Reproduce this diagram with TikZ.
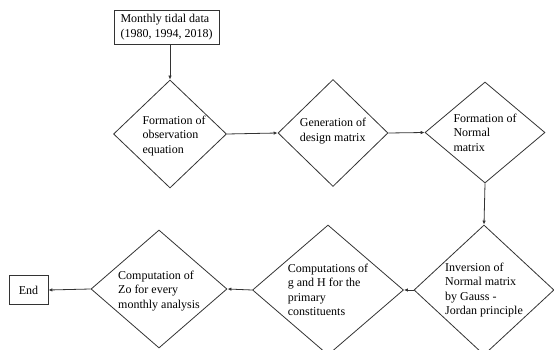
\documentclass[tikz,border=0pt]{standalone}
\usepackage{fontspec}
\setmainfont{Liberation Serif}
\usetikzlibrary{shapes.geometric,arrows.meta}

\tikzset{
 dia/.style={draw=black!80, line width=0.8pt, shape=diamond, inner sep=0pt},
 box/.style={draw=black!80, line width=0.8pt, rectangle, inner sep=0pt},
 lbl/.style={align=left, font=\fontsize{12}{14.5}\selectfont},
 arr/.style={draw=black!80, line width=0.8pt, -{Latex[length=4pt,width=3.5pt]}}
}

\begin{document}
\begin{tikzpicture}[x=1pt,y=-1pt]
 \clip (0,0) rectangle (554,350);
 % first row
 \node[box, minimum width=105pt, minimum height=34pt, lbl] (data) at (166.5,27) {Monthly tidal data\\(1980, 1994, 2018)};
 \node[dia, minimum width=113pt, minimum height=108pt,
   label={[lbl, xshift=4pt, yshift=-2pt]center:{Formation of\\observation\\equation}}] (form) at (170,134) {};
 \node[dia, minimum width=110pt, minimum height=107pt,
   label={[lbl, yshift=2pt]center:{Generation of\\design matrix}}] (design) at (333,133) {};
 \node[dia, minimum width=120pt, minimum height=101pt,
   label={[lbl]center:{Formation of\\Normal\\matrix}}] (normal) at (485,132.5) {};
 % second row
 \node[dia, minimum width=140pt, minimum height=130pt,
   label={[lbl]center:{Inversion of\\Normal matrix\\by Gauss -\\Jordan principle}}] (inv) at (484,290) {};
 \node[dia, minimum width=151pt, minimum height=130pt,
   label={[lbl]center:{Computations of\\g and H for the\\primary\\constituents}}] (gH) at (328,290) {};
 \node[dia, minimum width=136pt, minimum height=118pt,
   label={[lbl, yshift=-2pt]center:{Computation of\\Zo for every\\monthly analysis}}] (zo) at (159,289) {};
 \node[box, minimum width=39pt, minimum height=29pt, lbl] (end) at (28.5,290) {End};
 % connectors
 \draw[arr] (data.south -| form.north) -- (form.north);
 \draw[arr] (form.east) -- (design.west);
 \draw[arr] (design.east) -- (normal.west);
 \draw[arr] (normal.south) -- (inv.north);
 \draw[arr] (inv.west) -- (gH.east);
 \draw[arr] (gH.west) -- (zo.east);
 \draw[arr] (zo.west) -- (end.east);
\end{tikzpicture}
\end{document}
